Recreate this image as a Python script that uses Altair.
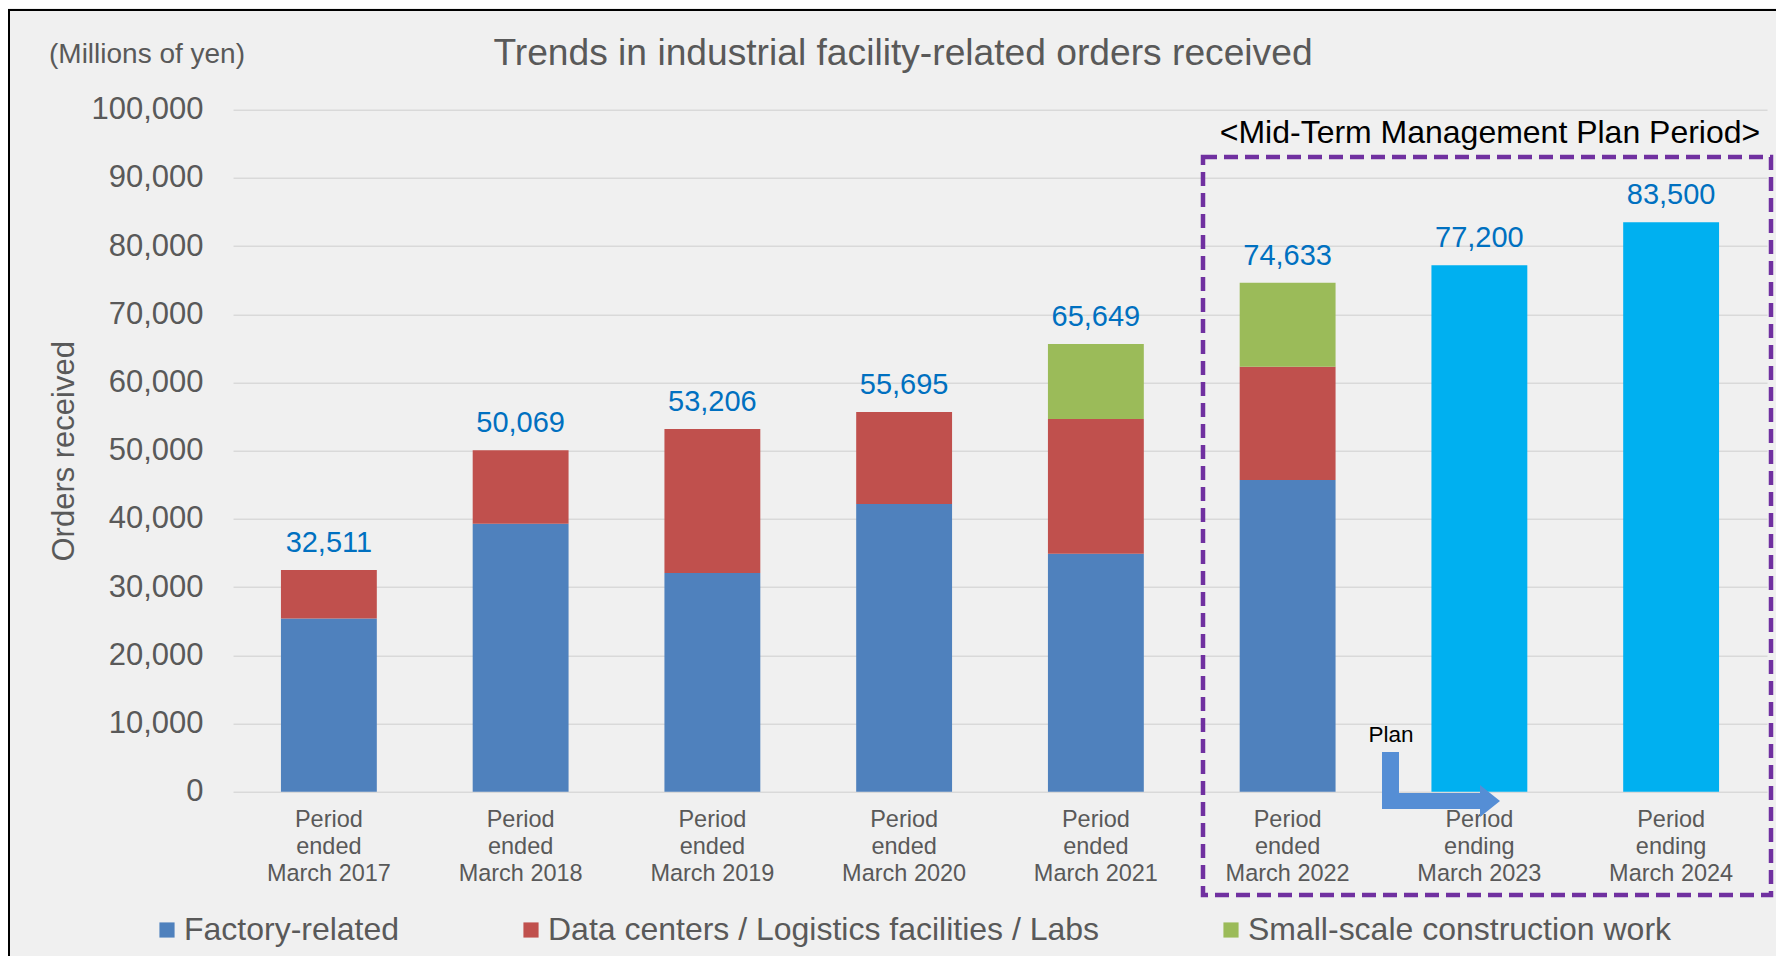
import altair as alt
import pandas as pd

# ---------------- data ----------------
periods = [
    "Period|ended|March 2017",
    "Period|ended|March 2018",
    "Period|ended|March 2019",
    "Period|ended|March 2020",
    "Period|ended|March 2021",
    "Period|ended|March 2022",
    "Period|ending|March 2023",
    "Period|ending|March 2024",
]
actual_periods = periods[:6]
plan_periods = periods[6:]

series_names = [
    "Factory-related",
    "Data centers / Logistics facilities / Labs",
    "Small-scale construction work",
]
series_colors = ["#4f81bd", "#c0504d", "#9bbb59"]

factory = [25400, 39300, 32100, 42200, 34900, 45700]
datacenters = [7111, 10769, 21106, 13495, 19749, 16633]
smallscale = [0, 0, 0, 0, 11000, 12300]

totals = [32511, 50069, 53206, 55695, 65649, 74633, 77200, 83500]
plan_values = [77200, 83500]
plan_color = "#00b0f0"

FONT = "Liberation Sans"
GREY = "#595959"

# ---------------- tables ----------------
rows = []
for i, p in enumerate(actual_periods):
    for k, (name, vals) in enumerate(zip(series_names, [factory, datacenters, smallscale])):
        if vals[i] > 0:
            rows.append({"period": p, "series": name, "value": vals[i], "idx": k})
stack_df = pd.DataFrame(rows)
plan_df = pd.DataFrame({"period": plan_periods, "value": plan_values})
total_df = pd.DataFrame({"period": periods, "total": totals,
                         "label": [f"{t:,}" for t in totals]})

# plot area origin on the page (for decorations)
PL, PT = 225, 101.8
OX, OY = 8 + PL, 8 + PT


def px(x):
    return x - OX


def py(y):
    return y - OY


x_enc = alt.X(
    "period:N",
    scale=alt.Scale(domain=periods, paddingInner=0.5, paddingOuter=0.25),
    axis=alt.Axis(
        title=None, labelAngle=0, labelExpr="split(datum.value, '|')",
        labelFontSize=23.5, labelColor=GREY, labelFont=FONT, labelLineHeight=26.7,
        labelPadding=16, domain=False, ticks=False, tickSize=0, grid=False,
        labelBaseline="top",
    ),
)
y_scale = alt.Scale(domain=[0, 100000], nice=False)
y_axis = alt.Axis(
    values=list(range(0, 100001, 10000)), format=",d",
    labelFontSize=31, labelColor=GREY, labelFont=FONT, labelPadding=30,
    title="Orders received", titleFontSize=31, titleColor=GREY, titleFont=FONT,
    titleFontWeight="normal", titlePadding=10,
    domain=False, ticks=False, tickSize=0, gridColor="#d9d9d9", gridWidth=1.5,
)

one = pd.DataFrame({"d": [0]})

border = alt.Chart(one).mark_rect(fill=None, fillOpacity=0, stroke="#000000", strokeWidth=2).encode(
    x=alt.value(px(9)), x2=alt.value(px(1900)), y=alt.value(py(10)), y2=alt.value(py(1100))
)

stack = alt.Chart(stack_df).mark_bar().encode(
    x=x_enc,
    y=alt.Y("sum(value):Q", scale=y_scale, axis=y_axis, stack="zero"),
    color=alt.Color(
        "series:N",
        scale=alt.Scale(domain=series_names, range=series_colors),
        legend=alt.Legend(
            title=None, orient="none", legendX=px(151), legendY=py(914),
            direction="horizontal", symbolType="square", symbolSize=230,
            labelFontSize=32, labelColor=GREY, labelFont=FONT, labelOffset=1,
            columnPadding=115, padding=0, labelLimit=1000, symbolStrokeWidth=0,
        ),
    ),
    order=alt.Order("idx:Q", sort="ascending"),
)

plan = alt.Chart(plan_df).mark_bar(color=plan_color).encode(
    x=x_enc,
    y=alt.Y("value:Q", scale=y_scale, axis=y_axis),
)

labels = alt.Chart(total_df).mark_text(
    font=FONT, fontSize=29, color="#0070c0", baseline="alphabetic", dy=-18
).encode(
    x=x_enc,
    y=alt.Y("total:Q", scale=y_scale, axis=y_axis),
    text="label:N",
)

box = alt.Chart(one).mark_rect(
    fill=None, fillOpacity=0, stroke="#7030a0", strokeWidth=4.5, strokeDash=[14, 7]
).encode(
    x=alt.value(px(1203)), x2=alt.value(px(1771)), y=alt.value(py(157)), y2=alt.value(py(895))
)

title = alt.Chart(pd.DataFrame({"t": ["Trends in industrial facility-related orders received"]})).mark_text(
    font=FONT, fontSize=37.2, color=GREY, align="center", baseline="middle"
).encode(x=alt.value(px(903)), y=alt.value(py(54)), text="t:N")

unit = alt.Chart(pd.DataFrame({"t": ["(Millions of yen)"]})).mark_text(
    font=FONT, fontSize=28, color=GREY, align="left", baseline="middle"
).encode(x=alt.value(px(49)), y=alt.value(py(55)), text="t:N")

midterm = alt.Chart(pd.DataFrame({"t": ["<Mid-Term Management Plan Period>"]})).mark_text(
    font=FONT, fontSize=32, color="#000000", align="center", baseline="middle"
).encode(x=alt.value(px(1490)), y=alt.value(py(133)), text="t:N")

plan_txt = alt.Chart(pd.DataFrame({"t": ["Plan"]})).mark_text(
    font=FONT, fontSize=22.5, color="#000000", align="center", baseline="middle"
).encode(x=alt.value(px(1391)), y=alt.value(py(735)), text="t:N")

ARROW = "#558ed5"
stem = alt.Chart(one).mark_rect(color=ARROW).encode(
    x=alt.value(px(1382)), x2=alt.value(px(1399)), y=alt.value(py(752)), y2=alt.value(py(809))
)
shaft = alt.Chart(one).mark_rect(color=ARROW).encode(
    x=alt.value(px(1382)), x2=alt.value(px(1482)), y=alt.value(py(793)), y2=alt.value(py(809))
)
head = alt.Chart(one).mark_point(
    shape="M-0.625,-1L0.625,0L-0.625,1Z", filled=True, fill=ARROW,
    strokeWidth=0, opacity=1, size=1024,
).encode(x=alt.value(px(1490)), y=alt.value(py(801)))

chart = alt.layer(
    border, stack, plan, labels, box, title, unit, midterm, stem, shaft, head, plan_txt
).properties(
    width=1534, height=682,
    autosize=alt.AutoSizeParams(type="none"),
    padding={"left": PL, "top": PT, "right": 9, "bottom": 164},
    background="#f0f0f0",
).configure_view(strokeWidth=0)

chart.save("out.html", embed_options={"renderer": "svg", "actions": False})
